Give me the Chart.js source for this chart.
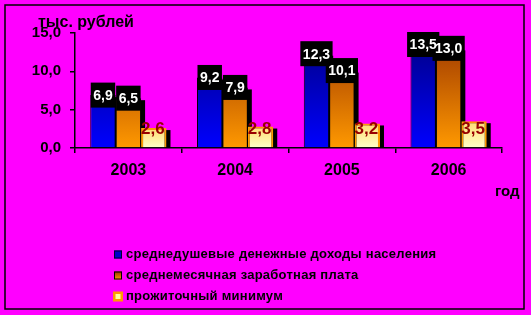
<!DOCTYPE html>
<html>
<head>
<meta charset="utf-8">
<script src="https://cdn.jsdelivr.net/npm/chart.js@4.4.1/dist/chart.umd.min.js"></script>
<style>
  html, body { margin: 0; padding: 0; background: #ff00ff; }
  canvas { display: block; }
</style>
</head>
<body>
<canvas id="chart" width="531" height="315"></canvas>
<script>
const years = ['2003', '2004', '2005', '2006'];
const incomePerCapita = [6.9, 9.2, 12.3, 13.5];
const averageWage = [6.5, 7.9, 10.1, 13.0];
const subsistenceMin = [2.6, 2.8, 3.2, 3.5];
const seriesNames = [
    'среднедушевые денежные доходы населения',
    'среднемесячная заработная плата',
    'прожиточный минимум'
];
const yTicks = [0, 5, 10, 15];
const unitLabel = 'тыс. рублей';
const yearLabel = 'год';

const FONT = "'Liberation Sans', Arial, sans-serif";
const fmt = v => v.toFixed(1).replace('.', ',');

// gradient over the whole plot height (blue / orange bars)
const areaGradient = (top, bottom) => context => {
    const chart = context.chart;
    const a = chart.chartArea;
    if (!a) return bottom;
    const g = chart.ctx.createLinearGradient(0, a.top, 0, a.bottom);
    g.addColorStop(0, top);
    g.addColorStop(1, bottom);
    return g;
};

// gradient inside one bar (light yellow bars)
const barGradient = (top, bottom) => context => {
    const chart = context.chart;
    if (!chart.chartArea || context.raw == null) return bottom;
    const y = chart.scales.y;
    const g = chart.ctx.createLinearGradient(0, y.getPixelForValue(context.raw), 0, y.getPixelForValue(0));
    g.addColorStop(0, top);
    g.addColorStop(1, bottom);
    return g;
};

const barShadows = {
    id: 'barShadows',
    beforeDatasetsDraw(chart) {
        const c = chart.ctx;
        c.save();
        c.fillStyle = '#000';
        chart.data.datasets.forEach((ds, i) => {
            chart.getDatasetMeta(i).data.forEach(bar => {
                const p = bar.getProps(['x', 'y', 'base', 'width'], true);
                c.fillRect(p.x - p.width / 2 + 4, p.y + 2, p.width, p.base - p.y - 2);
            });
        });
        c.restore();
    }
};

const valueLabels = {
    id: 'valueLabels',
    afterDatasetsDraw(chart) {
        const c = chart.ctx;
        c.save();
        c.textAlign = 'center';
        c.textBaseline = 'middle';
        c.font = 'bold 14px ' + FONT;
        const boxed = [];
        [0, 1].forEach(i => {
            chart.getDatasetMeta(i).data.forEach((bar, j) => {
                const t = fmt(chart.data.datasets[i].data[j]);
                const w = c.measureText(t).width + 5;
                c.fillStyle = '#000';
                c.fillRect(bar.x - w / 2, bar.y - 12.5, w, 25);
                boxed.push([t, bar.x, bar.y]);
            });
        });
        c.fillStyle = '#fff';
        boxed.forEach(([t, x, y]) => c.fillText(t, x, y + 1));

        c.font = 'bold 17px ' + FONT;
        c.fillStyle = '#990000';
        chart.getDatasetMeta(2).data.forEach((bar, j) => {
            c.fillText(fmt(chart.data.datasets[2].data[j]), bar.x - 1, bar.base - 18);
        });
        c.restore();
    }
};

const decorations = {
    id: 'decorations',
    afterDraw(chart) {
        const c = chart.ctx;
        c.save();
        // frame
        c.strokeStyle = '#000';
        c.lineWidth = 1.5;
        c.strokeRect(5, 5, 519, 304);

        c.fillStyle = '#000';
        c.textBaseline = 'middle';
        c.textAlign = 'left';
        c.font = 'bold 16px ' + FONT;
        c.fillText(unitLabel, 38, 23);
        c.font = 'bold 15px ' + FONT;
        c.fillText(yearLabel, 495, 192);

        // legend
        c.font = 'bold 13px ' + FONT;
        c.letterSpacing = '0.25px';
        seriesNames.forEach((name, i) => {
            const y = 254.5 + i * 21;
            if (i === 0) {
                c.fillStyle = '#0000cc';
                c.fillRect(114, y - 4, 8, 8);
                c.strokeStyle = '#000033';
                c.lineWidth = 1;
                c.strokeRect(114.5, y - 3.5, 7, 7);
            } else if (i === 1) {
                const g = c.createLinearGradient(0, y - 4, 0, y + 4);
                g.addColorStop(0, '#993300');
                g.addColorStop(1, '#ff9900');
                c.fillStyle = g;
                c.fillRect(114, y - 4, 8, 8);
                c.strokeStyle = '#000';
                c.lineWidth = 1;
                c.strokeRect(114.5, y - 3.5, 7, 7);
            } else {
                c.fillStyle = '#ff9900';
                c.fillRect(113, y - 5, 10, 10);
                c.fillStyle = '#ffff99';
                c.fillRect(115.5, y - 2.5, 5, 5);
            }
            c.fillStyle = '#000';
            c.fillText(name, 126, y);
        });
        c.restore();
    }
};

const axisFont = size => ({ family: FONT, size: size, weight: 'bold' });

new Chart(document.getElementById('chart'), {
    type: 'bar',
    data: {
        labels: years,
        datasets: [
            {
                label: seriesNames[0],
                data: incomePerCapita,
                backgroundColor: areaGradient('#000080', '#0000ff'),
                borderColor: '#000000',
                borderWidth: 1
            },
            {
                label: seriesNames[1],
                data: averageWage,
                backgroundColor: areaGradient('#993300', '#ff9900'),
                borderColor: '#000000',
                borderWidth: 1
            },
            {
                label: seriesNames[2],
                data: subsistenceMin,
                backgroundColor: barGradient('#ffdd70', '#ffffc8'),
                borderColor: '#ff9900',
                borderWidth: 2
            }
        ]
    },
    options: {
        responsive: false,
        animation: false,
        layout: { padding: { top: 33, right: 29, left: 0, bottom: 127 } },
        datasets: { bar: { categoryPercentage: 0.714, barPercentage: 1.0 } },
        plugins: {
            legend: { display: false },
            tooltip: { enabled: false }
        },
        scales: {
            x: {
                grid: { drawOnChartArea: false, color: '#000', tickLength: 5, lineWidth: 1.5 },
                border: { color: '#000', width: 1.5 },
                ticks: { color: '#000', font: axisFont(16), padding: 8 },
                afterFit: s => { s.height = 40; }
            },
            y: {
                min: 0,
                max: 15,
                afterBuildTicks: axis => { axis.ticks = yTicks.map(v => ({ value: v })); },
                grid: { drawOnChartArea: false, color: '#000', tickLength: 5, lineWidth: 1.5 },
                border: { color: '#000', width: 1.5 },
                ticks: { color: '#000', font: axisFont(15), padding: 9, callback: v => fmt(v) },
                afterFit: s => { s.width = 75; }
            }
        }
    },
    plugins: [barShadows, valueLabels, decorations]
});
</script>
</body>
</html>
